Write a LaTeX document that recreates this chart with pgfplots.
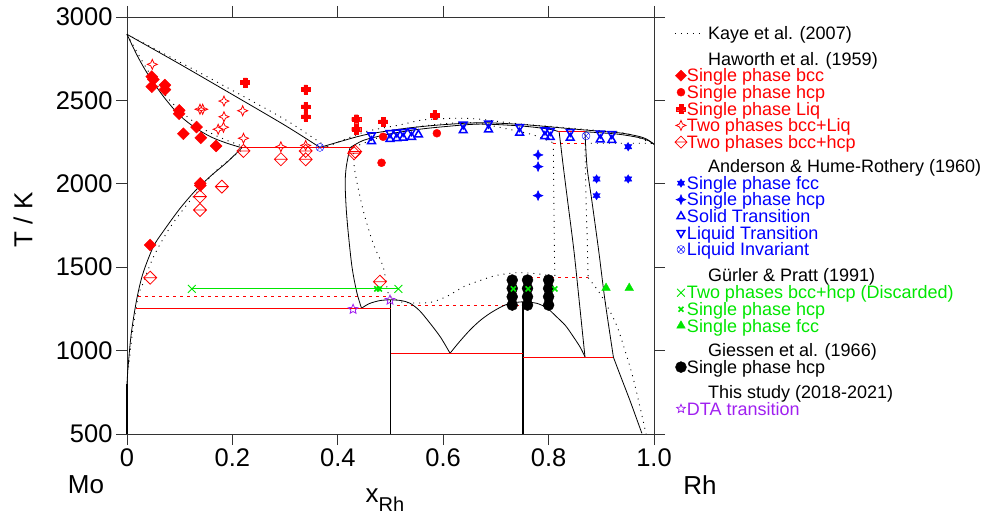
\documentclass[border=0pt]{standalone}
\usepackage{pgfplots}
\pgfplotsset{compat=1.18}
\usepackage{fontspec}
\setmainfont{Liberation Sans}
\definecolor{pgreen}{RGB}{0,230,0}
\definecolor{ppurple}{RGB}{160,32,240}
\definecolor{pblue}{RGB}{0,0,255}
\definecolor{pred}{RGB}{255,0,0}

\pgfdeclareplotmark{fourstar}{%
  \pgfpathmoveto{\pgfqpoint{0pt}{\pgfplotmarksize}}%
  \pgfpathlineto{\pgfqpoint{0.3\pgfplotmarksize}{0.3\pgfplotmarksize}}%
  \pgfpathlineto{\pgfqpoint{\pgfplotmarksize}{0pt}}%
  \pgfpathlineto{\pgfqpoint{0.3\pgfplotmarksize}{-0.3\pgfplotmarksize}}%
  \pgfpathlineto{\pgfqpoint{0pt}{-\pgfplotmarksize}}%
  \pgfpathlineto{\pgfqpoint{-0.3\pgfplotmarksize}{-0.3\pgfplotmarksize}}%
  \pgfpathlineto{\pgfqpoint{-\pgfplotmarksize}{0pt}}%
  \pgfpathlineto{\pgfqpoint{-0.3\pgfplotmarksize}{0.3\pgfplotmarksize}}%
  \pgfpathclose\pgfusepathqstroke}
\pgfdeclareplotmark{fourstar*}{%
  \pgfpathmoveto{\pgfqpoint{0pt}{\pgfplotmarksize}}%
  \pgfpathlineto{\pgfqpoint{0.3\pgfplotmarksize}{0.3\pgfplotmarksize}}%
  \pgfpathlineto{\pgfqpoint{\pgfplotmarksize}{0pt}}%
  \pgfpathlineto{\pgfqpoint{0.3\pgfplotmarksize}{-0.3\pgfplotmarksize}}%
  \pgfpathlineto{\pgfqpoint{0pt}{-\pgfplotmarksize}}%
  \pgfpathlineto{\pgfqpoint{-0.3\pgfplotmarksize}{-0.3\pgfplotmarksize}}%
  \pgfpathlineto{\pgfqpoint{-\pgfplotmarksize}{0pt}}%
  \pgfpathlineto{\pgfqpoint{-0.3\pgfplotmarksize}{0.3\pgfplotmarksize}}%
  \pgfpathclose\pgfusepathqfillstroke}
\pgfdeclareplotmark{rdiamond*}{%
  \pgfpathmoveto{\pgfqpoint{0pt}{\pgfplotmarksize}}%
  \pgfpathlineto{\pgfqpoint{\pgfplotmarksize}{0pt}}%
  \pgfpathlineto{\pgfqpoint{0pt}{-\pgfplotmarksize}}%
  \pgfpathlineto{\pgfqpoint{-\pgfplotmarksize}{0pt}}%
  \pgfpathclose\pgfusepathqfillstroke}
\pgfdeclareplotmark{diamondline}{%
  \pgfpathmoveto{\pgfqpoint{0pt}{\pgfplotmarksize}}%
  \pgfpathlineto{\pgfqpoint{\pgfplotmarksize}{0pt}}%
  \pgfpathlineto{\pgfqpoint{0pt}{-\pgfplotmarksize}}%
  \pgfpathlineto{\pgfqpoint{-\pgfplotmarksize}{0pt}}%
  \pgfpathclose
  \pgfpathmoveto{\pgfqpoint{-\pgfplotmarksize}{0pt}}%
  \pgfpathlineto{\pgfqpoint{\pgfplotmarksize}{0pt}}%
  \pgfusepathqstroke}
\pgfdeclareplotmark{fatplus*}{%
  \pgfpathmoveto{\pgfqpoint{0.4\pgfplotmarksize}{\pgfplotmarksize}}%
  \pgfpathlineto{\pgfqpoint{0.4\pgfplotmarksize}{0.4\pgfplotmarksize}}%
  \pgfpathlineto{\pgfqpoint{\pgfplotmarksize}{0.4\pgfplotmarksize}}%
  \pgfpathlineto{\pgfqpoint{\pgfplotmarksize}{-0.4\pgfplotmarksize}}%
  \pgfpathlineto{\pgfqpoint{0.4\pgfplotmarksize}{-0.4\pgfplotmarksize}}%
  \pgfpathlineto{\pgfqpoint{0.4\pgfplotmarksize}{-\pgfplotmarksize}}%
  \pgfpathlineto{\pgfqpoint{-0.4\pgfplotmarksize}{-\pgfplotmarksize}}%
  \pgfpathlineto{\pgfqpoint{-0.4\pgfplotmarksize}{-0.4\pgfplotmarksize}}%
  \pgfpathlineto{\pgfqpoint{-\pgfplotmarksize}{-0.4\pgfplotmarksize}}%
  \pgfpathlineto{\pgfqpoint{-\pgfplotmarksize}{0.4\pgfplotmarksize}}%
  \pgfpathlineto{\pgfqpoint{-0.4\pgfplotmarksize}{0.4\pgfplotmarksize}}%
  \pgfpathlineto{\pgfqpoint{-0.4\pgfplotmarksize}{\pgfplotmarksize}}%
  \pgfpathclose\pgfusepathqfillstroke}
\pgfdeclareplotmark{hexstar*}{%
  \pgfpathmoveto{\pgfqpointpolar{90}{\pgfplotmarksize}}%
  \pgfpathlineto{\pgfqpointpolar{210}{\pgfplotmarksize}}%
  \pgfpathlineto{\pgfqpointpolar{330}{\pgfplotmarksize}}%
  \pgfpathclose
  \pgfpathmoveto{\pgfqpointpolar{270}{\pgfplotmarksize}}%
  \pgfpathlineto{\pgfqpointpolar{30}{\pgfplotmarksize}}%
  \pgfpathlineto{\pgfqpointpolar{150}{\pgfplotmarksize}}%
  \pgfpathclose\pgfusepathqfillstroke}
\pgfdeclareplotmark{fivestar}{%
  \pgfpathmoveto{\pgfqpointpolar{90}{\pgfplotmarksize}}%
  \pgfpathlineto{\pgfqpointpolar{126}{0.45\pgfplotmarksize}}%
  \pgfpathlineto{\pgfqpointpolar{162}{\pgfplotmarksize}}%
  \pgfpathlineto{\pgfqpointpolar{198}{0.45\pgfplotmarksize}}%
  \pgfpathlineto{\pgfqpointpolar{234}{\pgfplotmarksize}}%
  \pgfpathlineto{\pgfqpointpolar{270}{0.45\pgfplotmarksize}}%
  \pgfpathlineto{\pgfqpointpolar{306}{\pgfplotmarksize}}%
  \pgfpathlineto{\pgfqpointpolar{342}{0.45\pgfplotmarksize}}%
  \pgfpathlineto{\pgfqpointpolar{18}{\pgfplotmarksize}}%
  \pgfpathlineto{\pgfqpointpolar{54}{0.45\pgfplotmarksize}}%
  \pgfpathclose\pgfusepathqstroke}

\newcommand\LF{\fontsize{18bp}{20bp}\selectfont}
\newcommand\AF{\fontsize{26bp}{28bp}\selectfont}
\tikzset{leg/.style={font=\LF, anchor=base west, inner sep=0pt, outer sep=0pt}}

\pgfplotsset{
  kaye/.style={black, line width=0.9bp, dash pattern=on 1bp off 5bp, forget plot, smooth},
  kayer/.style={pred, line width=0.9bp, dash pattern=on 3bp off 4bp, forget plot},
  calc/.style={black, line width=0.8bp, forget plot, smooth},
  inv/.style={pred, line width=1bp, forget plot},
  mbcc/.style={only marks, pred, fill=pred, mark=rdiamond*, mark size=6bp, forget plot},
  mhcp/.style={only marks, pred, fill=pred, mark=*, mark size=4bp, forget plot},
  mliq/.style={only marks, pred, fill=pred, mark=fatplus*, mark size=4.5bp, forget plot},
  mbl/.style={only marks, pred, mark=fourstar, mark size=5bp, line width=0.8bp, forget plot},
  mbh/.style={only marks, pred, mark=diamondline, mark size=6.5bp, line width=0.8bp, forget plot},
  afcc/.style={only marks, pblue, fill=pblue, mark=hexstar*, mark size=4.2bp, forget plot},
  ahcp/.style={only marks, pblue, fill=pblue, mark=fourstar*, mark size=5bp, forget plot},
  asol/.style={only marks, pblue, mark=triangle, mark size=4.5bp, mark options={line width=1.5bp}, forget plot},
  aliq/.style={only marks, pblue, mark=triangle, mark size=4.5bp, mark options={rotate=180, line width=1.5bp}, forget plot},
  ainv/.style={only marks, pblue, mark=otimes, mark size=4bp, forget plot},
  gdis/.style={pgreen, line width=0.9bp, mark=x, mark size=5.5bp, forget plot},
  ghcp/.style={only marks, pgreen, mark=x, mark size=3.5bp, mark options={line width=1.6bp}, forget plot},
  gfcc/.style={only marks, pgreen, fill=pgreen, mark=triangle*, mark size=5bp, forget plot},
  ghs/.style={only marks, black, fill=black, mark=*, mark size=5.5bp, forget plot},
  dta/.style={only marks, ppurple, mark=fivestar, mark size=5bp, line width=0.8bp, forget plot},
}

\begin{document}
\begin{tikzpicture}
\useasboundingbox (0,0) rectangle (987bp,524bp);
\begin{axis}[
  at={(127bp,90bp)}, anchor=south west,
  scale only axis, width=527bp, height=417bp,
  xmin=0, xmax=1, ymin=500, ymax=3000,
  clip=false,
  xtick={0,0.2,0.4,0.6,0.8,1.0}, xticklabels={0,0.2,0.4,0.6,0.8,1.0},
  ytick={500,1000,1500,2000,2500,3000},
  yticklabels={500,1000,1500,2000,2500,3000},
  tick align=outside, major tick length=11bp,
  /pgf/number format/assume math mode=true,
  ticklabel style={font=\fontsize{25.5bp}{28bp}\selectfont},
  every tick/.style={black!80, line width=0.8bp},
  axis line style={black!80, line width=0.8bp},
]
% ---------- Kaye et al. (2007), dotted ----------
\addplot[kaye] coordinates {(0,2896) (0.1,2730) (0.2,2560) (0.3,2385) (0.37,2240) (0.38,2222)};
\addplot[kaye] coordinates {(0,2896) (0.03,2730) (0.06,2580) (0.1,2440) (0.15,2320) (0.19,2260) (0.225,2220)};
\addplot[kaye] coordinates {(0.225,2220) (0.17,2080) (0.12,1900) (0.08,1730) (0.05,1560) (0.03,1400) (0.021,1323) (0.01,1100) (0.003,900)};
\addplot[kaye] coordinates {(0.43,2220) (0.432,2083) (0.448,1843) (0.467,1643) (0.486,1503) (0.493,1383) (0.497,1323)};
\addplot[kaye] coordinates {(0.5,1323) (0.52,1292) (0.55,1285) (0.58,1292) (0.61,1330) (0.64,1385) (0.67,1420) (0.70,1450) (0.74,1467) (0.78,1460) (0.812,1443)};
\addplot[kaye] coordinates {(0.809,2245) (0.81,1900) (0.811,1600) (0.812,1443)};
\addplot[kaye] coordinates {(0.869,2243) (0.871,1900) (0.873,1700) (0.875,1437)};
\addplot[kaye] coordinates {(0.875,1437) (0.9,1330) (0.928,1160) (0.945,1000) (0.96,840) (0.975,640) (0.985,500)};
\addplot[kaye] coordinates {(0.38,2222) (0.45,2310) (0.518,2353) (0.562,2383) (0.626,2393) (0.67,2387) (0.733,2363) (0.8,2345) (0.9,2318) (0.95,2300) (1.0,2237)};
\addplot[kaye] coordinates {(0.43,2220) (0.48,2280) (0.53,2330) (0.6,2360) (0.66,2365) (0.72,2330) (0.771,2293) (0.809,2245)};
\addplot[kaye] coordinates {(0.869,2243) (0.935,2243) (0.99,2243) (1.0,2237)};
\addplot[kayer] coordinates {(0.225,2220) (0.43,2220)};
\addplot[kayer] coordinates {(0.021,1323) (0.5,1323)};
\addplot[kayer] coordinates {(0.512,1273) (0.752,1273)};
\addplot[kayer] coordinates {(0.752,1437) (0.875,1437)};
\addplot[kayer] coordinates {(0.809,2243) (0.869,2243)};

% ---------- This study, solid ----------
\addplot[calc] coordinates {(0,2896) (0.1,2718) (0.2,2535) (0.3,2350) (0.366,2218)};
\addplot[calc] coordinates {(0,2896) (0.02,2765) (0.04,2655) (0.07,2520) (0.1,2410) (0.13,2335) (0.16,2280) (0.19,2243) (0.218,2216)};
\addplot[calc] coordinates {(0.218,2216) (0.19,2130) (0.16,2050) (0.13,1960) (0.1,1850) (0.07,1720) (0.05,1623) (0.03,1460) (0.018,1300) (0.008,1100) (0.002,900) (0,800)};
\addplot[black, line width=1.6bp, forget plot] coordinates {(0,800) (0,500)};
\addplot[calc] coordinates {(0.423,2216) (0.416,2100) (0.414,2000) (0.416,1850) (0.42,1700) (0.427,1500) (0.436,1350) (0.445,1254)};
\addplot[calc] coordinates {(0.445,1254) (0.46,1282) (0.48,1300) (0.5,1305)};
\addplot[calc] coordinates {(0.5,1305) (0.52,1300) (0.537,1284) (0.555,1240) (0.575,1164) (0.595,1080) (0.613,984)};
\addplot[calc] coordinates {(0.613,984) (0.63,1050) (0.651,1124) (0.67,1180) (0.689,1224) (0.71,1262) (0.727,1284) (0.752,1293)};
\addplot[calc] coordinates {(0.752,1293) (0.777,1284) (0.797,1255) (0.815,1203) (0.832,1150) (0.847,1083) (0.86,1020) (0.869,963)};
\addplot[black, line width=1.8bp, forget plot] coordinates {(0.5,1305) (0.5,500)};
\addplot[black, line width=1.8bp, forget plot] coordinates {(0.752,1293) (0.752,500)};
\addplot[calc] coordinates {(0.82,2312) (0.828,2100) (0.836,1900) (0.848,1600) (0.858,1300) (0.869,963)};
\addplot[calc] coordinates {(0.869,2312) (0.873,2100) (0.882,1900) (0.895,1600) (0.907,1300) (0.923,960)};
\addplot[calc] coordinates {(0.923,960) (0.935,860) (0.954,704) (0.966,600) (0.977,504)};
\addplot[calc] coordinates {(0.366,2218) (0.404,2253) (0.44,2285) (0.467,2303) (0.53,2333) (0.594,2353) (0.67,2366) (0.752,2355) (0.86,2325) (0.935,2305) (0.97,2285) (0.986,2268) (1.0,2237)};
\addplot[calc] coordinates {(0.423,2216) (0.45,2262) (0.5,2300) (0.55,2325) (0.6,2342) (0.67,2358) (0.75,2346) (0.8,2328) (0.82,2312)};
\addplot[calc] coordinates {(0.869,2312) (0.93,2298) (0.97,2278) (0.99,2258) (1.0,2237)};
\addplot[inv] coordinates {(0.218,2216) (0.423,2216)};
\addplot[inv] coordinates {(0.017,1254) (0.5,1254)};
\addplot[inv] coordinates {(0.5,980) (0.752,980)};
\addplot[inv] coordinates {(0.752,960) (0.923,960)};
\addplot[inv] coordinates {(0.818,2312) (0.869,2312)};

% ---------- Haworth et al. (1959) ----------
\addplot[mbcc] coordinates {
 (0.047,2642) (0.050,2625) (0.047,2582) (0.072,2592) (0.072,2565) (0.099,2440) (0.099,2420)
 (0.107,2300) (0.132,2340) (0.140,2276) (0.169,2227) (0.139,2003) (0.139,1990) (0.044,1633)};
\addplot[mhcp] coordinates {(0.483,2126) (0.486,2282) (0.588,2303)};
\addplot[mliq] coordinates {
 (0.224,2608) (0.339,2566) (0.339,2462) (0.339,2402) (0.435,2387) (0.435,2327) (0.486,2372) (0.584,2412)};
\addplot[mbl] coordinates {
 (0.048,2716) (0.1385,2447) (0.1436,2447) (0.184,2496) (0.184,2402) (0.2195,2438)
 (0.173,2327) (0.183,2339) (0.221,2273) (0.292,2222) (0.339,2230)};
\addplot[mbh] coordinates {
 (0.221,2197) (0.292,2147) (0.339,2197) (0.339,2147) (0.431,2183) (0.433,2193)
 (0.18,1983) (0.1385,1923) (0.1385,1843) (0.044,1437) (0.48,1413)};

% ---------- Anderson & Hume-Rothery (1960) ----------
\addplot[afcc] coordinates {(0.951,2222) (0.891,2029) (0.891,1929) (0.951,2029)};
\addplot[ahcp] coordinates {(0.78,2173) (0.78,2103) (0.78,1929)};
\addplot[asol] coordinates {
 (0.464,2255) (0.499,2268) (0.512,2272) (0.524,2275) (0.540,2280) (0.553,2295) (0.638,2320)
 (0.686,2325) (0.745,2305) (0.793,2285) (0.803,2280) (0.841,2275) (0.898,2265) (0.920,2262)};
\addplot[aliq] coordinates {
 (0.464,2292) (0.499,2305) (0.512,2309) (0.524,2312) (0.540,2317) (0.638,2357)
 (0.686,2362) (0.745,2342) (0.793,2322) (0.803,2317) (0.841,2312) (0.898,2302) (0.920,2299)};
\addplot[ainv] coordinates {(0.366,2218) (0.871,2287)};

% ---------- Gurler & Pratt (1991) ----------
\addplot[gdis] coordinates {(0.123,1370) (0.515,1370)};
\addplot[ghcp] coordinates {(0.474,1370) (0.479,1370)};
\addplot[gfcc] coordinates {(0.909,1375) (0.953,1375)};

% ---------- Giessen et al. (1966) ----------
\addplot[ghs] coordinates {
 (0.731,1273) (0.731,1323) (0.731,1373) (0.731,1423)
 (0.760,1273) (0.760,1323) (0.760,1373) (0.760,1423)
 (0.800,1273) (0.800,1323) (0.800,1373) (0.800,1423)};
\addplot[ghcp] coordinates {(0.733,1370) (0.761,1370) (0.812,1370)};

% ---------- This study DTA ----------
\addplot[dta] coordinates {(0.429,1248) (0.499,1303)};

% ---------- legend (keys drawn beside the axis) ----------
\addplot[black, line width=0.9bp, dash pattern=on 1bp off 5bp, forget plot] coordinates {(1.0398,2902) (1.0911,2902)};
\addplot[mbcc, mark size=5.5bp] coordinates {(1.0512,2648)};
\addplot[mhcp] coordinates {(1.0512,2549)};
\addplot[mliq] coordinates {(1.0512,2449)};
\addplot[mbl] coordinates {(1.0512,2350)};
\addplot[mbh, mark size=6bp] coordinates {(1.0512,2250)};
\addplot[afcc] coordinates {(1.0512,2004)};
\addplot[ahcp] coordinates {(1.0512,1905)};
\addplot[asol] coordinates {(1.0512,1805)};
\addplot[aliq] coordinates {(1.0512,1706)};
\addplot[ainv] coordinates {(1.0512,1606)};
\addplot[only marks, pgreen, mark=x, mark size=5.5bp, line width=0.9bp, forget plot] coordinates {(1.0512,1347)};
\addplot[ghcp] coordinates {(1.0512,1248)};
\addplot[gfcc] coordinates {(1.0512,1149)};
\addplot[ghs] coordinates {(1.0512,901)};
\addplot[dta, mark size=4.5bp] coordinates {(1.0512,651)};

\node[leg] at (axis cs:1.1025,2866.3) {Kaye et al. (2007)};
\node[leg] at (axis cs:1.1025,2708.0) {Haworth et al. (1959)};
\node[leg, text=pred] at (axis cs:1.0626,2610.9) {Single phase bcc};
\node[leg, text=pred] at (axis cs:1.0626,2511.4) {Single phase hcp};
\node[leg, text=pred] at (axis cs:1.0626,2411.9) {Single phase Liq};
\node[leg, text=pred] at (axis cs:1.0626,2312.4) {Two phases bcc+Liq};
\node[leg, text=pred] at (axis cs:1.0626,2212.8) {Two phases bcc+hcp};
\node[leg] at (axis cs:1.1025,2065.9) {Anderson \& Hume-Rothery (1960)};
\node[leg, text=pblue] at (axis cs:1.0626,1967.0) {Single phase fcc};
\node[leg, text=pblue] at (axis cs:1.0626,1867.5) {Single phase hcp};
\node[leg, text=pblue] at (axis cs:1.0626,1768.0) {Solid Transition};
\node[leg, text=pblue] at (axis cs:1.0626,1668.5) {Liquid Transition};
\node[leg, text=pblue] at (axis cs:1.0626,1569.0) {Liquid Invariant};
\node[leg] at (axis cs:1.1025,1413.1) {Gürler \& Pratt (1991)};
\node[leg, text=pgreen] at (axis cs:1.0626,1309.4) {Two phases bcc+hcp (Discarded)};
\node[leg, text=pgreen] at (axis cs:1.0626,1210.4) {Single phase hcp};
\node[leg, text=pgreen] at (axis cs:1.0626,1111.5) {Single phase fcc};
\node[leg] at (axis cs:1.1025,963.4) {Giessen et al. (1966)};
\node[leg] at (axis cs:1.0626,863.9) {Single phase hcp};
\node[leg] at (axis cs:1.1025,714.0) {This study (2018-2021)};
\node[leg, text=ppurple] at (axis cs:1.0626,613.9) {DTA transition};
\end{axis}
\node[font=\AF, rotate=90] at (23bp,304bp) {T / K};
\node[font=\AF] at (86bp,39bp) {Mo};
\node[font=\AF] at (700bp,39bp) {Rh};
\node[font=\AF, anchor=base] at (385bp,22bp) {x\raisebox{-9bp}{\fontsize{20bp}{22bp}\selectfont Rh}};
\end{tikzpicture}
\end{document}
